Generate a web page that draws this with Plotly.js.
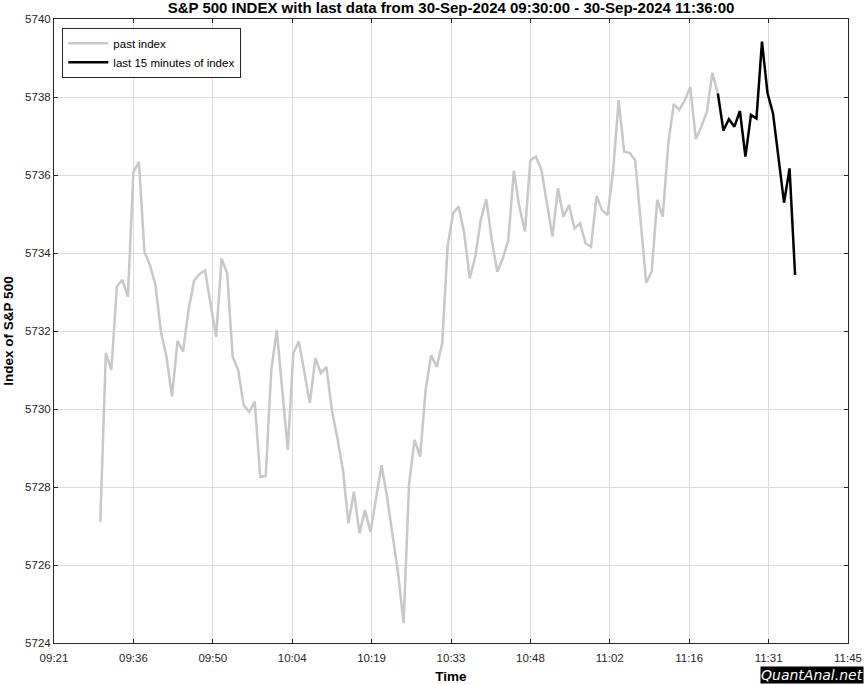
<!DOCTYPE html>
<html>
<head>
<meta charset="utf-8">
<script src="https://cdn.plot.ly/plotly-3.0.1.min.js"></script>
<style>html,body{margin:0;padding:0;background:#fff;}#chart{width:864px;height:684px;}</style>
</head>
<body>
<div id="chart"></div>
<script>
const chartTitle = 'S&P 500 INDEX with last data from 30-Sep-2024 09:30:00 - 30-Sep-2024 11:36:00';
const tradeDate = '2024-09-30';
const times = [
 '09:30','09:31','09:32','09:33','09:34','09:35','09:36','09:37','09:38','09:39',
 '09:40','09:41','09:42','09:43','09:44','09:45','09:46','09:47','09:48','09:49',
 '09:50','09:51','09:52','09:53','09:54','09:55','09:56','09:57','09:58','09:59',
 '10:00','10:01','10:02','10:03','10:04','10:05','10:06','10:07','10:08','10:09',
 '10:10','10:11','10:12','10:13','10:14','10:15','10:16','10:17','10:18','10:19',
 '10:20','10:21','10:22','10:23','10:24','10:25','10:26','10:27','10:28','10:29',
 '10:30','10:31','10:32','10:33','10:34','10:35','10:36','10:37','10:38','10:39',
 '10:40','10:41','10:42','10:43','10:44','10:45','10:46','10:47','10:48','10:49',
 '10:50','10:51','10:52','10:53','10:54','10:55','10:56','10:57','10:58','10:59',
 '11:00','11:01','11:02','11:03','11:04','11:05','11:06','11:07','11:08','11:09',
 '11:10','11:11','11:12','11:13','11:14','11:15','11:16','11:17','11:18','11:19',
 '11:20','11:21','11:22','11:23','11:24','11:25','11:26','11:27','11:28','11:29',
 '11:30','11:31','11:32','11:33','11:34','11:35','11:36'
];
const indexValues = [
 5727.11,5731.44,5731.00,5733.14,5733.31,5732.88,5736.08,5736.34,5734.03,5733.69,
 5733.18,5731.98,5731.34,5730.32,5731.75,5731.47,5732.54,5733.29,5733.46,5733.55,
 5732.70,5731.85,5733.86,5733.48,5731.34,5731.00,5730.10,5729.93,5730.19,5728.26,
 5728.28,5731.00,5732.03,5730.50,5728.95,5731.43,5731.73,5730.95,5730.15,5731.30,
 5730.92,5731.08,5729.97,5729.25,5728.44,5727.07,5727.88,5726.81,5727.41,5726.85,
 5727.75,5728.56,5727.75,5726.81,5725.79,5724.51,5728.09,5729.21,5728.78,5730.49,
 5731.38,5731.08,5731.68,5734.20,5735.03,5735.19,5734.50,5733.35,5733.90,5734.85,
 5735.38,5734.33,5733.52,5733.86,5734.33,5736.11,5735.19,5734.55,5736.38,5736.47,
 5736.13,5735.27,5734.42,5735.66,5734.93,5735.23,5734.63,5734.76,5734.25,5734.16,
 5735.46,5735.10,5734.97,5736.10,5737.92,5736.60,5736.57,5736.38,5734.85,5733.24,
 5733.52,5735.36,5734.93,5736.80,5737.82,5737.67,5737.92,5738.26,5736.92,5737.24,
 5737.62,5738.62,5738.09,5737.14,5737.43,5737.24,5737.64,5736.47,5737.54,5737.45,
 5739.42,5738.10,5737.58,5736.47,5735.29,5736.17,5733.44
];
const lastCount = 15;
const xTickVals = ['09:21:36','09:36:00','09:50:24','10:04:48','10:19:12','10:33:36','10:48:00','11:02:24','11:16:48','11:31:12','11:45:36'];
const xTickText = ['09:21','09:36','09:50','10:04','10:19','10:33','10:48','11:02','11:16','11:31','11:45'];
const yTickVals = [5724,5726,5728,5730,5732,5734,5736,5738,5740];

const xs = times.map(t => tradeDate + ' ' + t);
const split = indexValues.length - lastCount;

const traces = [
  {x: xs.slice(0, split + 1), y: indexValues.slice(0, split + 1), type: 'scatter', mode: 'lines',
   name: 'past index', line: {color: '#c8c8c8', width: 2.5}},
  {x: xs.slice(split), y: indexValues.slice(split), type: 'scatter', mode: 'lines',
   name: 'last 15 minutes of index', line: {color: '#000000', width: 2.5}}
];

const fontFam = '"Liberation Sans", Arial, Helvetica, sans-serif';
const layout = {
  width: 864, height: 684,
  margin: {l: 54, r: 16, t: 19, b: 41},
  paper_bgcolor: '#ffffff', plot_bgcolor: '#ffffff',
  font: {family: fontFam, size: 11, color: '#262626'},
  title: {text: chartTitle, font: {family: fontFam, size: 15, color: '#000', weight: 'bold'},
          x: 0.5, xref: 'paper', y: 0.989, yref: 'container', yanchor: 'middle'},
  showlegend: true,
  legend: {x: 0.0105, y: 0.986, xanchor: 'left', yanchor: 'top', xref: 'paper', yref: 'paper',
           bgcolor: '#ffffff', bordercolor: '#262626', borderwidth: 1,
           font: {family: fontFam, size: 11.5, color: '#000'}, tracegroupgap: 0, itemwidth: 40},
  xaxis: {type: 'date',
          range: [tradeDate + ' ' + xTickVals[0], tradeDate + ' ' + xTickVals[xTickVals.length - 1]],
          tickmode: 'array', tickvals: xTickVals.map(t => tradeDate + ' ' + t), ticktext: xTickText,
          showgrid: true, gridcolor: '#dcdcdc', gridwidth: 1,
          showline: true, linecolor: '#262626', linewidth: 1, mirror: 'ticks',
          ticks: 'inside', ticklen: 4, tickcolor: '#262626', ticklabelstandoff: 4,
          zeroline: false, tickfont: {size: 11.5, color: '#262626'},
          title: {text: 'Time', font: {size: 13.5, color: '#000', weight: 'bold'}, standoff: 12}},
  yaxis: {range: [5724, 5740], tickmode: 'array', tickvals: yTickVals,
          showgrid: true, gridcolor: '#dcdcdc', gridwidth: 1,
          showline: true, linecolor: '#262626', linewidth: 1, mirror: 'ticks',
          ticks: 'inside', ticklen: 4, tickcolor: '#262626',
          zeroline: false, tickfont: {size: 11.5, color: '#262626'},
          title: {text: 'Index of S&P 500', font: {size: 13.5, color: '#000', weight: 'bold'}, standoff: 8}},
  annotations: [
    {text: '<i>QuantAnal.net</i>', xref: 'paper', yref: 'paper', x: 1.02, y: -0.066,
     xanchor: 'right', yanchor: 'bottom', showarrow: false, bgcolor: '#000000',
     font: {family: '"DejaVu Sans", sans-serif', size: 14, color: '#ffffff'}, borderpad: 0}
  ]
};

Plotly.newPlot('chart', traces, layout, {staticPlot: true, displayModeBar: false});
</script>
</body>
</html>
